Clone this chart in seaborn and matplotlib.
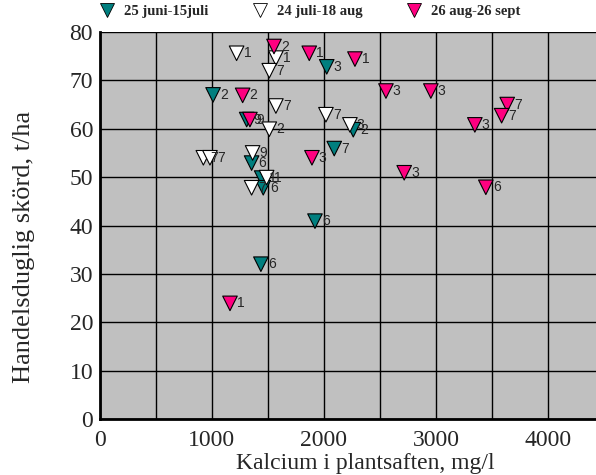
import matplotlib
matplotlib.use("Agg")
import matplotlib.pyplot as plt
from matplotlib.ticker import MultipleLocator
from matplotlib.lines import Line2D
import seaborn as sns
import pandas as pd

# ---- data ----
series_names = ["25 juni-15juli", "24 juli-18 aug", "26 aug-26 sept"]

teal_x = [1010, 2025, 1310, 1354, 1444, 1458, 1920, 1437, 2092, 2262]
teal_y = [67, 72.8, 61.9, 52.9, 49.8, 47.8, 40.9, 32, 55.9, 59.8]
teal_lab = ["2", "3", "9", "6", "1", "6", "6", "6", "7", "2"]

white_x = [1220, 1571, 1512, 1571, 1512, 2018, 2232, 1363, 1488, 1354, 923, 982]
white_y = [75.6, 74.6, 72, 64.7, 59.9, 62.9, 60.8, 55, 49.9, 47.8, 54, 54]
white_lab = ["1", "1", "7", "7", "2", "7", "3", "9", "1", "7", "7", "7"]

pink_x = [1554, 1869, 1274, 1339, 1893, 2277, 2554, 2955, 3637, 3587, 3348, 2717, 3446, 1161]
pink_y = [77, 75.6, 66.9, 61.9, 54, 74.4, 67.8, 67.8, 65, 62.7, 60.8, 50.9, 47.9, 23.9]
pink_lab = ["2", "1", "2", "9", "3", "1", "3", "3", "7", "7", "3", "3", "6", "1"]

x_label = "Kalcium i plantsaften, mg/l"
y_label = "Handelsduglig skörd, t/ha"

df = pd.concat([
    pd.DataFrame({"x": teal_x, "y": teal_y, "lab": teal_lab, "grp": series_names[0]}),
    pd.DataFrame({"x": white_x, "y": white_y, "lab": white_lab, "grp": series_names[1]}),
    pd.DataFrame({"x": pink_x, "y": pink_y, "lab": pink_lab, "grp": series_names[2]}),
], ignore_index=True)

palette = {series_names[0]: "#007F7F", series_names[1]: "#FFFFFF", series_names[2]: "#FF0080"}

sns.set_style("white")
plt.rcParams["font.family"] = ["Liberation Serif", "DejaVu Serif"]

fig = plt.figure(figsize=(5.96, 4.75), dpi=100)
ax = fig.add_axes([100 / 596, 1 - 419 / 475, 1 - 100 / 596, (419 - 32) / 475])
ax.set_facecolor("#C0C0C0")

sns.scatterplot(data=df, x="x", y="y", hue="grp", palette=palette, marker="v",
                s=110, edgecolor="black", linewidth=0.8, ax=ax, legend=False, zorder=3)

for _, r in df.iterrows():
    ax.annotate(r["lab"], (r["x"], r["y"]), xytext=(5, 0), textcoords="offset points",
                ha="left", va="center", fontsize=10, family=["Liberation Sans", "DejaVu Sans"],
                zorder=4)

ax.set_xlim(0, 4430)
ax.set_ylim(0, 80)
ax.xaxis.set_major_locator(MultipleLocator(1000))
ax.xaxis.set_minor_locator(MultipleLocator(500))
ax.yaxis.set_major_locator(MultipleLocator(10))
ax.yaxis.set_minor_locator(MultipleLocator(5))
ax.grid(True, which="major", axis="y", color="black", linewidth=1.0, zorder=1)
ax.grid(True, which="both", axis="x", color="black", linewidth=1.0, zorder=1)
ax.set_axisbelow(True)
ax.tick_params(axis="both", which="major", direction="in", length=5, width=1,
               labelsize=17, pad=5)
ax.tick_params(axis="x", which="major", pad=8)
ax.tick_params(axis="both", which="minor", direction="in", length=3, width=1)
for s in ["top", "right"]:
    ax.spines[s].set_visible(False)
for s in ["left", "bottom"]:
    ax.spines[s].set_linewidth(2)
    ax.spines[s].set_color("black")

ax.set_xlabel(x_label, fontsize=17, labelpad=0)
ax.set_ylabel(y_label, fontsize=19)
ax.xaxis.set_label_coords((365 - 100) / 496, -0.088)
ax.yaxis.set_label_coords((35 - 100) / 496, (419 - 247) / 387)

handles = [Line2D([], [], marker="v", linestyle="none", markersize=10,
                  markerfacecolor=palette[n], markeredgecolor="black", markeredgewidth=0.6)
           for n in series_names]
leg = fig.legend(handles, series_names, loc="center left", bbox_to_anchor=(0.156, 0.975),
                 ncol=3, frameon=False, prop={"family": "Liberation Serif", "weight": "bold", "size": 10.5},
                 handletextpad=0.6, columnspacing=3.0, borderaxespad=0, handlelength=1.1)

fig.savefig("out.png", dpi=100)
